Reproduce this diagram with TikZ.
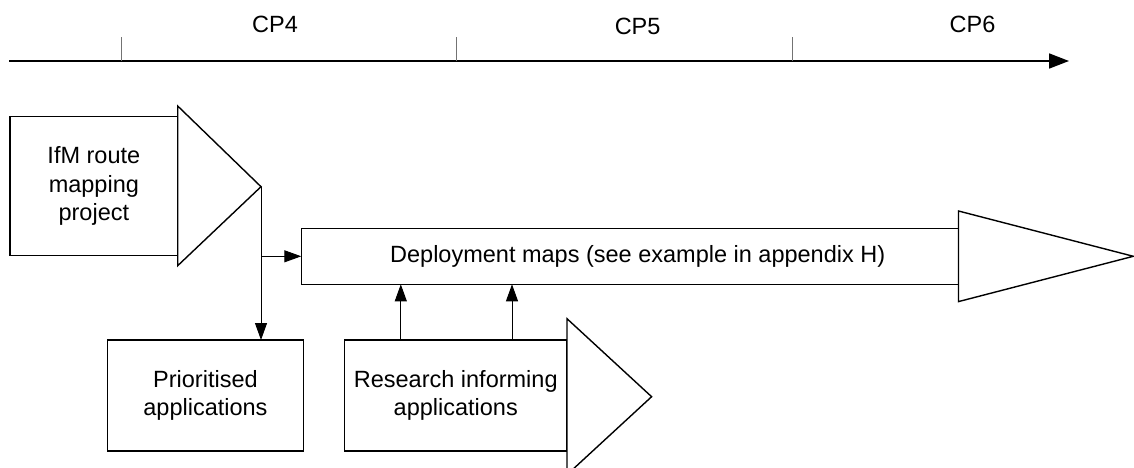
\documentclass[tikz,border=0pt]{standalone}
\usepackage{fontspec}
\setmainfont{Liberation Sans}
\usetikzlibrary{arrows.meta}
\begin{document}
\begin{tikzpicture}[x=1pt,y=-1pt,
  every node/.style={inner sep=0pt,outer sep=0pt,font=\fontsize{23.5pt}{28.4pt}\selectfont},
  box/.style={draw=black,line width=1.4pt,fill=white,rectangle},
  wedge/.style={draw=black,line width=1.4pt,fill=white,line join=miter},
  link/.style={draw=black,line width=1pt,-{Triangle[length=17pt,width=12pt]}},
  axis/.style={draw=black,line width=1.8pt,-{Triangle[length=20pt,width=15pt]}},
  tick/.style={draw=black!55,line width=0.8pt}]
\clip (0,0) rectangle (1134,468);
\fill[white] (0,0) rectangle (1134,468);

% timeline with checkpoint ticks
\coordinate (t0) at (9,61);
\coordinate (t1) at (1069,61);
\draw[axis] (t0) -- (t1);
\coordinate (k1) at (121.5,61);
\coordinate (k2) at (456,61);
\coordinate (k3) at (792,61);
\foreach \k in {k1,k2,k3} \draw[tick] (\k) -- ++(0,-23.5);
\node (cp4) at (275,24.5) {CP4};
\node (cp5) at (637.6,26.7) {CP5};
\node (cp6) at (972.5,24.5) {CP6};

% IfM route mapping project
\node[box,minimum width=167.7pt,minimum height=139pt,align=center] (ifm) at (93.85,186.2)
  {IfM route\\mapping\\project};
\coordinate (ifmtip) at (261,186.7);
\draw[wedge] (177.7,106) -- (ifmtip) -- (177.7,265.7) -- cycle;

% Deployment maps
\node[box,minimum width=657.2pt,minimum height=56pt] (deploy) at (629.9,256.3) {};
\node (deploytext) at ([xshift=7.8pt]deploy.center) {Deployment maps (see example in appendix H)};
\coordinate (deploytip) at (1133.3,256.3);
\draw[wedge] (958.5,211) -- (deploytip) -- (958.5,301.6) -- cycle;

% Prioritised applications
\node[box,minimum width=196.1pt,minimum height=111pt,align=center] (prio) at (205.45,395.5)
  {Prioritised\\applications};

% Research informing applications
\node[box,minimum width=222.5pt,minimum height=111pt,align=center] (research) at (455.75,395.5)
  {Research informing\\applications};
\coordinate (researchtip) at (651.6,396.7);
\draw[wedge] (567,318.7) -- (researchtip) -- (567,474.7) -- cycle;

% connectors
\draw[link] (ifmtip) -- (ifmtip |- prio.north);
\coordinate (branch) at (ifmtip |- deploy.west);
\draw[link] (branch) -- (deploy.west);
\coordinate (r1) at (400.8,340);
\coordinate (r2) at (512,340);
\draw[link] (r1) -- (r1 |- deploy.south);
\draw[link] (r2) -- (r2 |- deploy.south);
\end{tikzpicture}
\end{document}
